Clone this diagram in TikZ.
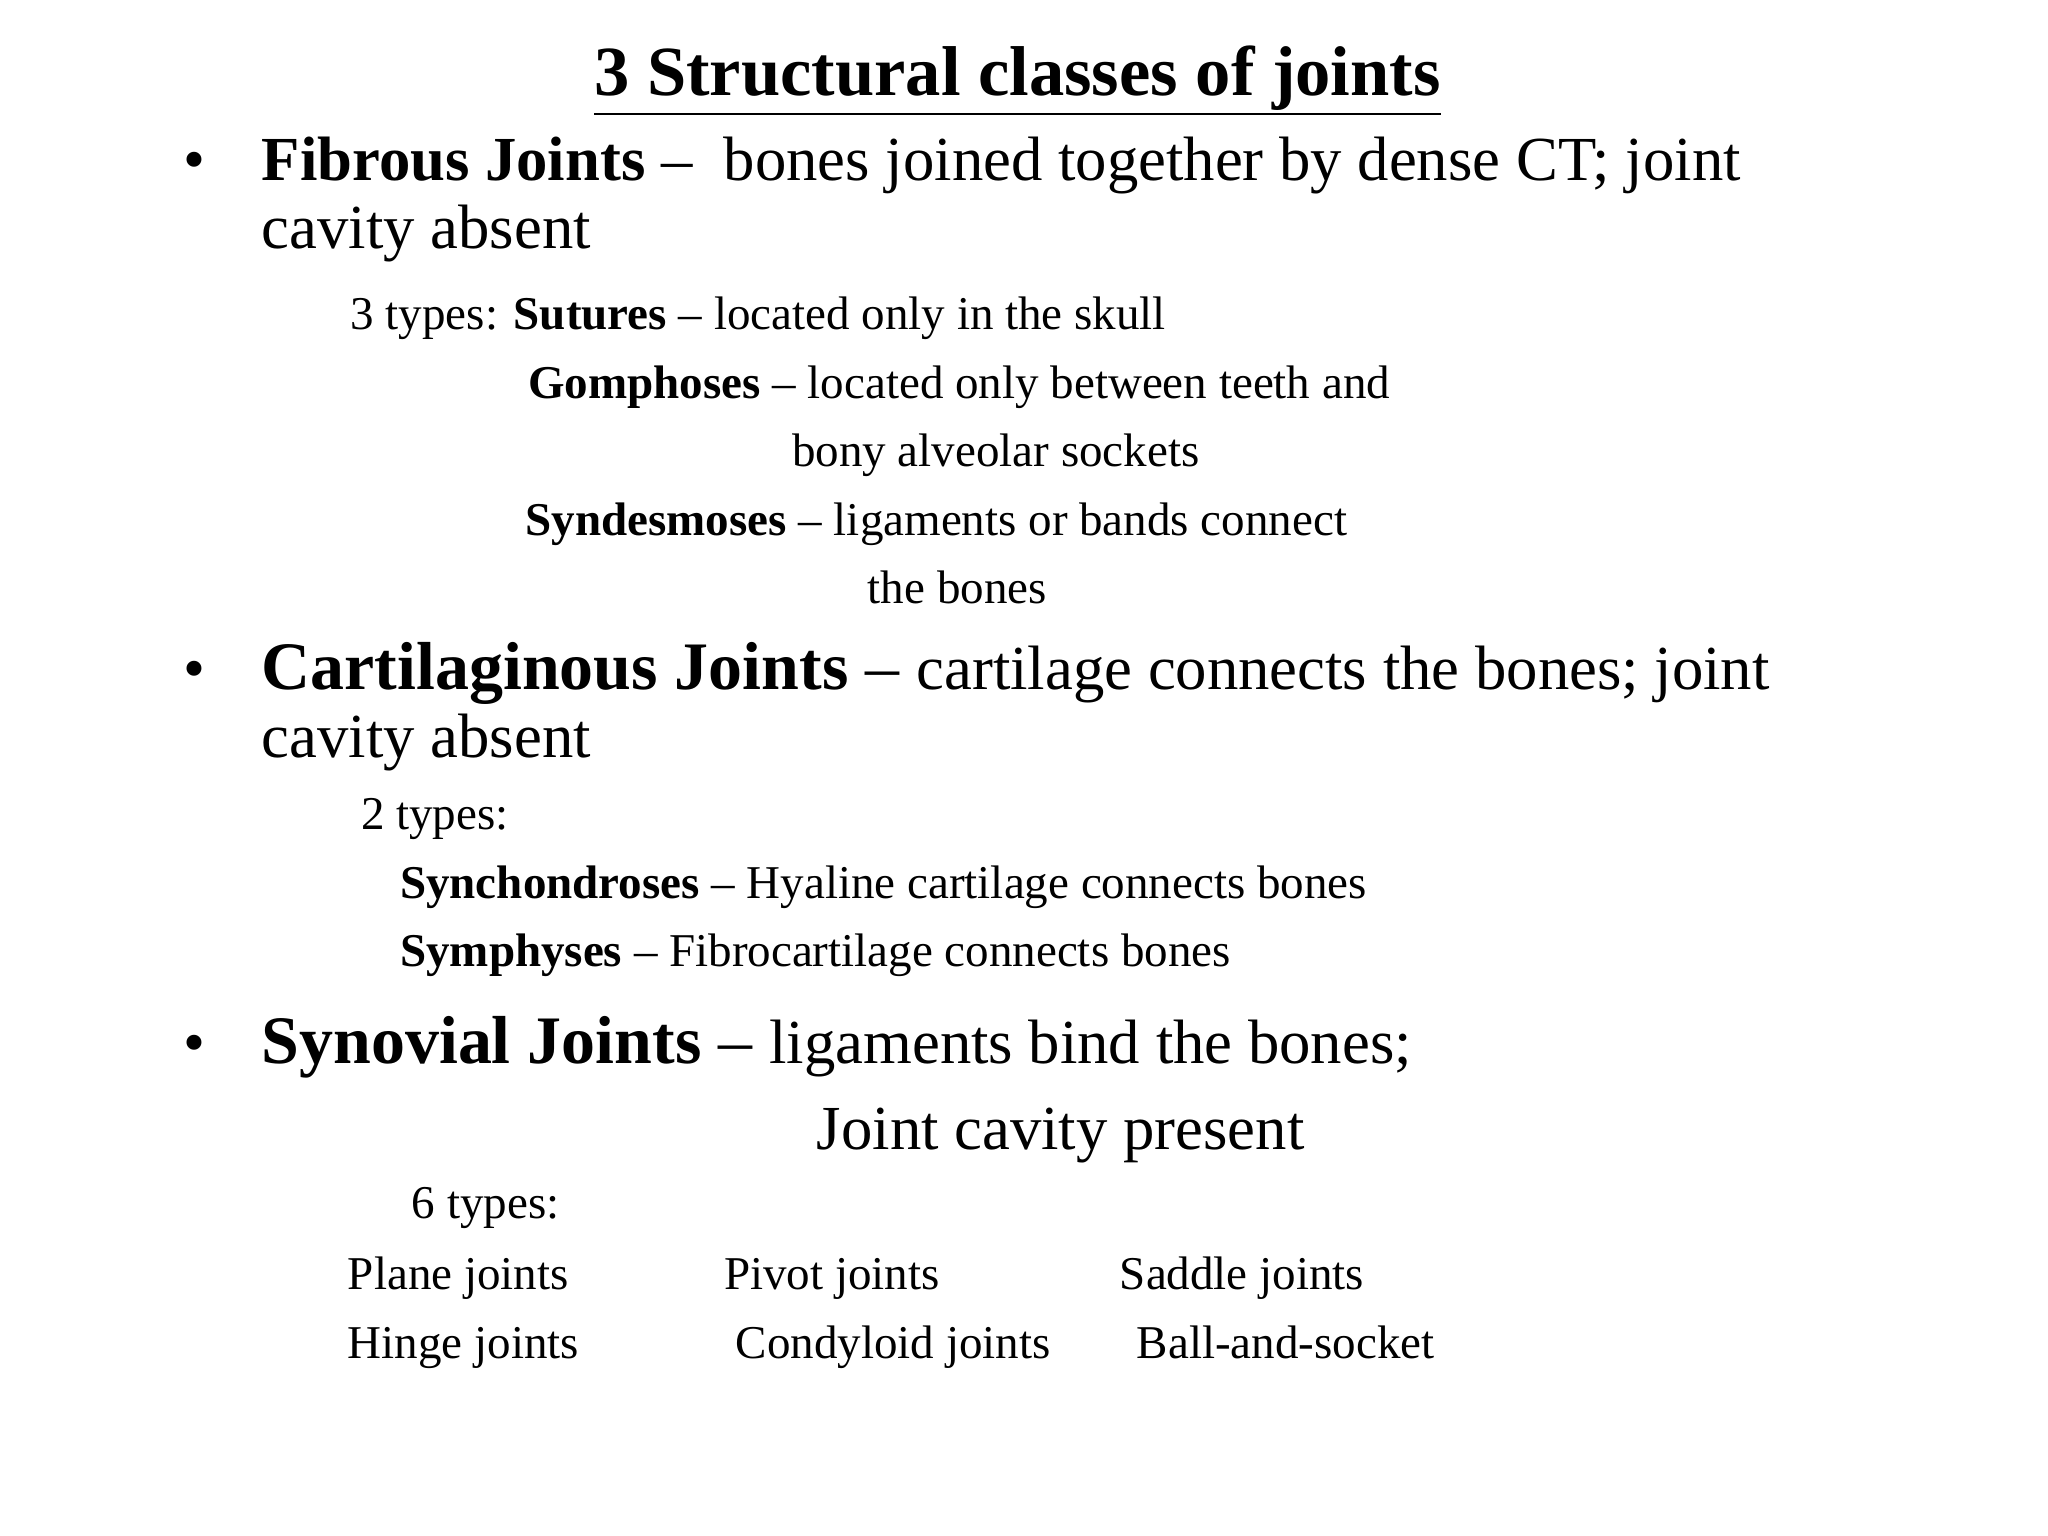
\documentclass[tikz,border=0pt]{standalone}
\usepackage{fontspec}
\setmainfont{Liberation Serif}
\begin{document}
\begin{tikzpicture}[x=0.5pt,y=-0.5pt,
  t/.style={anchor=base west,inner sep=0pt},
  big/.style={t,font=\fontsize{24}{28}\selectfont},
  sm/.style={t,font=\fontsize{18}{22}\selectfont}]
\useasboundingbox (0,0) rectangle (1568,1176);
\node[t,anchor=base,font=\fontsize{27}{32}\selectfont\bfseries] (title) at (779,73) {\underline{3 Structural classes of joints}};
\node[big] (b1) at (140,138) {•};
\node[big] (f1) at (200,138) {\textbf{Fibrous Joints} –\ \ bones joined together by dense CT; joint};
\node[big] (f2) at (200,190) {cavity absent};
\node[sm] (f3) at (268,252) {3 types: \textbf{Sutures} – located only in the skull};
\node[sm] (f4) at (404,305) {\textbf{Gomphoses} – located only between teeth and};
\node[sm] (f5) at (606,357) {bony alveolar sockets};
\node[sm] (f6) at (402,410) {\textbf{Syndesmoses} – ligaments or bands connect};
\node[sm] (f7) at (664,462) {the bones};
\node[big] (b2) at (140,528) {•};
\node[big] (c1) at (200,528) {\fontsize{26}{30}\selectfont\textbf{Cartilaginous Joints} – \fontsize{24}{28}\selectfont cartilage connects the bones; joint};
\node[big] (c2) at (200,580) {cavity absent};
\node[sm] (c3) at (276,635) {2 types:};
\node[sm] (c4) at (306,688) {\textbf{Synchondroses} – Hyaline cartilage connects bones};
\node[sm] (c5) at (306,740) {\textbf{Symphyses} – Fibrocartilage connects bones};
\node[big] (b3) at (140,814) {•};
\node[big] (s1) at (200,814) {\fontsize{26}{30}\selectfont\textbf{Synovial Joints} – \fontsize{24}{28}\selectfont ligaments bind the bones;};
\node[big] (s2) at (625,880) {Joint cavity present};
\node[sm] (s3) at (315,933) {6 types:};
\node[sm] (s4) at (266,987) {Plane joints};
\node[sm] (s5) at (554,987) {Pivot joints};
\node[sm] (s6) at (857,987) {Saddle joints};
\node[sm] (s7) at (266,1040) {Hinge joints};
\node[sm] (s8) at (563,1040) {Condyloid joints};
\node[sm] (s9) at (870,1040) {Ball-and-socket};
\end{tikzpicture}
\end{document}
